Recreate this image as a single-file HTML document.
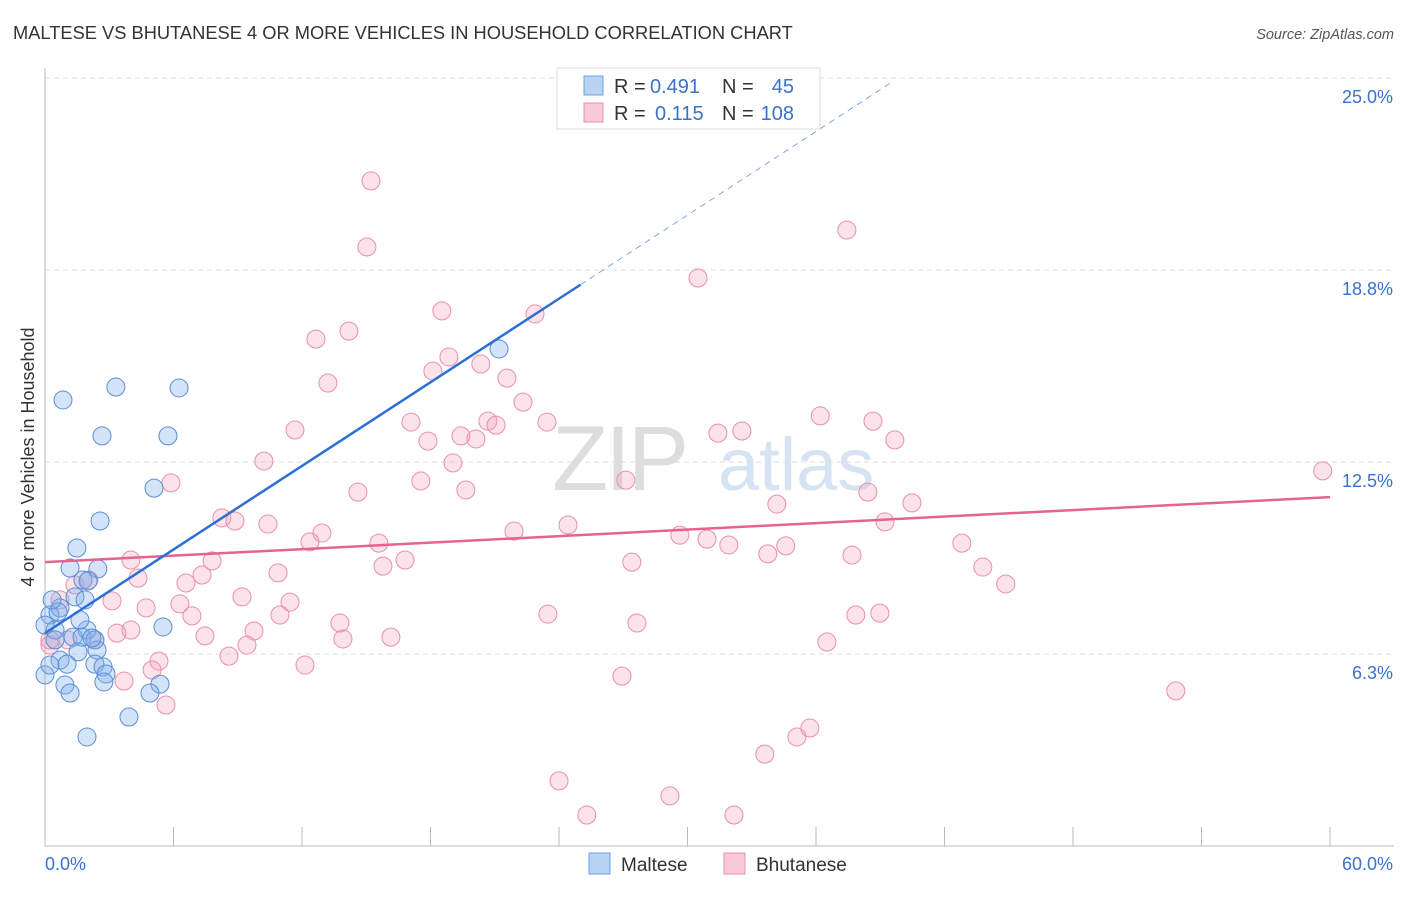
<!DOCTYPE html>
<html><head><meta charset="utf-8"><style>
body{margin:0;background:#fff;font-family:"Liberation Sans",sans-serif}
svg text{font-family:"Liberation Sans",sans-serif}
</style></head><body>
<svg width="1406" height="892" viewBox="0 0 1406 892" xmlns="http://www.w3.org/2000/svg">
<text x="13" y="39" font-size="18.3" fill="#333">MALTESE VS BHUTANESE 4 OR MORE VEHICLES IN HOUSEHOLD CORRELATION CHART</text>
<text x="1394" y="39" font-size="14.5" fill="#555" text-anchor="end" font-style="italic">Source: ZipAtlas.com</text>
<g><text x="552" y="490" font-size="92" fill="#ddd" font-family="Liberation Serif" letter-spacing="-3">ZIP</text><text x="718" y="490" font-size="74" fill="#d6e3f3">atlas</text></g>
<g id="grid"></g>
<g id="axes"></g>
<g id="marks"></g>
<g>
<rect x="557" y="68" width="263" height="61" fill="#fff" stroke="#ddd"/>
<rect x="584" y="76" width="19" height="19" fill="#b9d3f3" stroke="#6d9ee0"/>
<rect x="584" y="103" width="19" height="19" fill="#f9c9d7" stroke="#e890a8"/>
<text x="614" y="93" font-size="20" fill="#333">R =</text><text x="650" y="93" font-size="20" fill="#3a72c9">0.491</text>
<text x="722" y="93" font-size="20" fill="#333">N =</text><text x="794" y="93" font-size="20" fill="#3a72c9" text-anchor="end">45</text>
<text x="614" y="120" font-size="20" fill="#333">R =</text><text x="655" y="120" font-size="20" fill="#3a72c9">0.115</text>
<text x="722" y="120" font-size="20" fill="#333">N =</text><text x="794" y="120" font-size="20" fill="#3a72c9" text-anchor="end">108</text>
</g>
<g>
<rect x="589" y="853" width="21" height="21" fill="#b9d3f3" stroke="#6d9ee0"/>
<text x="621" y="871" font-size="19" fill="#333">Maltese</text>
<rect x="724" y="853" width="21" height="21" fill="#f9c9d7" stroke="#e890a8"/>
<text x="756" y="871" font-size="19" fill="#333">Bhutanese</text>
</g>
<text transform="translate(34,457) rotate(-90)" font-size="18" fill="#333" text-anchor="middle">4 or more Vehicles in Household</text>
</svg>
<script>
const yTicks=[6.25,12.5,18.75,25];
const yTickLabels=["6.3%","12.5%","18.8%","25.0%"];
const xTicks=[0,6,12,18,24,30,36,42,48,54,60];
const malteseX=[0.84,3.31,6.26,2.66,5.74,5.09,2.57,1.49,1.17,2.47,1.77,2.01,1.40,1.87,0.70,0.23,0,0.47,5.51,1.96,1.31,1.73,2.33,2.43,1.54,0.70,1.03,2.33,2.71,2.85,2.75,5.37,0.93,1.17,4.90,0,3.92,1.96,21.2,0.47,0.23,2.19,1.63,0.61,0.33];
const malteseY=[14.52,14.94,14.91,13.35,13.35,11.65,10.58,9.70,9.05,9.02,8.66,8.63,8.11,8.01,7.75,7.52,7.19,7.03,7.13,7.03,6.80,6.80,6.71,6.38,6.32,6.05,5.92,5.92,5.83,5.60,5.34,5.27,5.24,4.98,4.98,5.57,4.20,3.55,16.18,6.71,5.89,6.77,7.36,7.62,8.01];
const bhutX=[15.22,15.03,30.49,37.44,18.53,14.19,12.65,22.88,18.86,20.35,18.11,13.21,21.57,22.32,36.20,38.66,17.09,23.44,19.42,20.68,21.06,20.12,31.42,32.54,39.68,17.88,11.67,10.22,19.05,27.12,17.55,5.88,19.65,14.61,38.42,40.48,34.17,8.26,8.87,10.41,12.93,12.37,21.90,24.42,39.22,29.64,30.91,31.93,15.59,34.59,33.75,37.68,42.81,4.01,16.81,15.78,27.40,43.79,44.86,7.80,10.88,4.34,6.58,7.33,2.05,1.40,0.70,3.13,9.20,6.30,11.44,4.72,23.48,37.86,38.98,6.86,10.97,13.77,27.64,4.01,3.36,9.76,7.47,13.91,16.15,2.33,1.07,0.23,9.43,36.51,8.59,5.32,5.00,12.14,3.69,26.94,5.65,52.80,59.66,35.71,35.11,33.61,24.00,29.18,25.30,32.17,0.23];
const bhutY=[21.65,19.50,18.49,20.05,17.42,16.76,16.50,17.32,15.92,15.69,15.46,15.07,15.23,14.45,14.00,13.83,13.80,13.80,13.35,13.83,13.70,13.25,13.44,13.51,13.22,13.18,13.54,12.53,12.47,11.91,11.88,11.82,11.59,11.52,11.52,11.17,11.13,10.68,10.58,10.48,10.19,9.90,10.25,10.45,10.55,10.12,9.99,9.80,9.86,9.77,9.51,9.47,9.86,9.31,9.31,9.11,9.24,9.08,8.53,9.28,8.89,8.72,8.56,8.82,8.66,8.50,8.01,7.98,8.11,7.88,7.94,7.75,7.55,7.52,7.58,7.49,7.52,7.26,7.26,7.03,6.93,7.00,6.84,6.74,6.80,6.71,6.71,6.54,6.54,6.64,6.18,6.02,5.73,5.89,5.37,5.53,4.59,5.05,12.21,3.84,3.55,2.99,2.12,1.63,1.01,1.01,6.71];
const malteseTrend=[6.93,0.4536];
const bhutTrend=[9.24,0.0353];
const X=v=>45+v*1285/60, Y=v=>846-v*30.72;
const NS="http://www.w3.org/2000/svg";
function mk(p,t,a){const e=document.createElementNS(NS,t);for(const k in a)e.setAttribute(k,a[k]);p.appendChild(e);return e;}
const grid=document.getElementById('grid'),axes=document.getElementById('axes'),marks=document.getElementById('marks');
yTicks.forEach((t,i)=>{
 const l=mk(grid,'line',{x1:45,x2:1394,y1:Y(t),y2:Y(t),stroke:'#ddd','stroke-dasharray':'5,4'});
 
 
 const tx=mk(axes,'text',{x:1393,y:Y(t)+25,'font-size':18,fill:'#3a72c9','text-anchor':'end'});tx.textContent=yTickLabels[i];
 
 
});
mk(axes,'line',{x1:45,x2:45,y1:68,y2:846,stroke:'#bbb'});
mk(axes,'line',{x1:45,x2:1394,y1:846,y2:846,stroke:'#bbb'});
xTicks.forEach(t=>{const l=mk(axes,'line',{x1:X(t),x2:X(t),y1:827,y2:846,stroke:'#bbb'});
 
 });
let t0=mk(axes,'text',{x:45,y:870,'font-size':18,fill:'#3a72c9'});t0.textContent='0.0%';


let t1=mk(axes,'text',{x:1393,y:870,'font-size':18,fill:'#3a72c9','text-anchor':'end'});t1.textContent='60.0%';


bhutX.forEach((x,i)=>{const c=mk(marks,'circle',{cx:X(x),cy:Y(bhutY[i]),r:9,fill:'rgba(244,160,188,0.3)',stroke:'#e890a8','stroke-width':1});
 
 });
malteseX.forEach((x,i)=>{const c=mk(marks,'circle',{cx:X(x),cy:Y(malteseY[i]),r:9,fill:'rgba(130,175,235,0.35)',stroke:'#5b8fd6','stroke-width':1});
 
 });
let bl=mk(marks,'line',{x1:X(0),y1:Y(bhutTrend[0]),x2:X(60),y2:Y(bhutTrend[0]+60*bhutTrend[1]),stroke:'#e4648e','stroke-width':2.5});


let ml=mk(marks,'line',{x1:X(0),y1:Y(malteseTrend[0]),x2:X(25),y2:Y(malteseTrend[0]+25*malteseTrend[1]),stroke:'#2d6fd6','stroke-width':2.5});


let md=mk(marks,'line',{x1:X(25),y1:Y(malteseTrend[0]+25*malteseTrend[1]),x2:X(39.5),y2:Y(malteseTrend[0]+39.5*malteseTrend[1]),stroke:'#7aa3e0','stroke-width':1,'stroke-dasharray':'6,5'});


</script>
</body></html>
